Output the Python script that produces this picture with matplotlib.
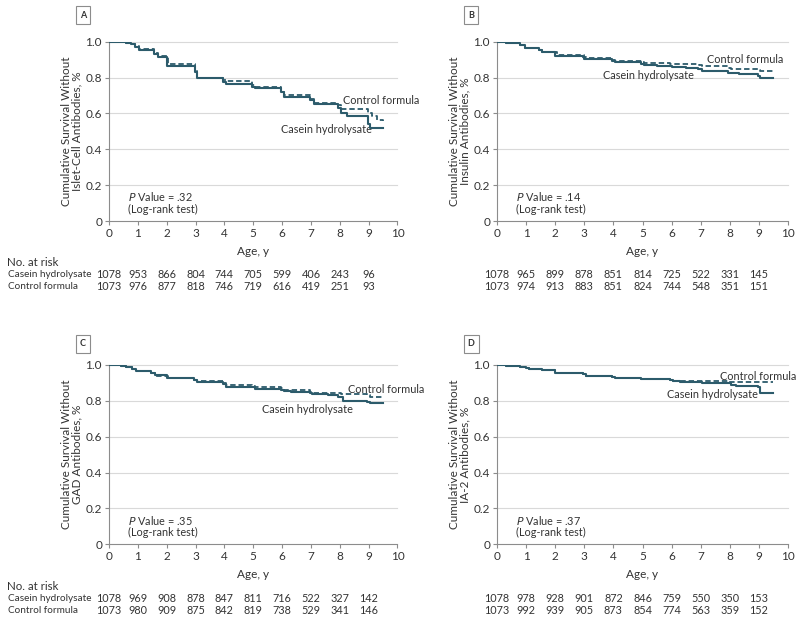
import matplotlib.pyplot as plt
from matplotlib.transforms import blended_transform_factory

plt.rcParams['font.family'] = ['Lato', 'DejaVu Sans']

TEAL = "#2c5b6b"
GRID = "#d9d9d9"
AXC = "#8c8c8c"
TXT = "#333333"

years = [0, 1, 2, 3, 4, 5, 6, 7, 8, 9]
groups = ["Casein hydrolysate", "Control formula"]

# Panel A: islet-cell antibodies
ica_cas_t = [0, 0.6, 0.75, 0.9, 1.05, 1.55, 1.7, 2.0, 2.98, 3.05, 3.95, 4.05, 4.95, 5.05, 5.95, 6.05, 6.95, 7.1, 7.95, 8.05, 8.25, 8.98, 9.05, 9.5]
ica_cas_s = [1.0, 0.995, 0.985, 0.97, 0.955, 0.93, 0.915, 0.862, 0.83, 0.80, 0.775, 0.764, 0.75, 0.742, 0.72, 0.69, 0.675, 0.655, 0.63, 0.60, 0.586, 0.54, 0.519, 0.519]
ica_con_t = [0, 0.6, 0.75, 0.9, 1.05, 1.55, 1.7, 2.05, 2.98, 3.05, 3.95, 4.05, 4.95, 5.05, 5.95, 6.05, 6.95, 7.1, 7.95, 8.05, 8.98, 9.1, 9.3, 9.5]
ica_con_s = [1.0, 0.995, 0.985, 0.975, 0.96, 0.935, 0.918, 0.877, 0.84, 0.80, 0.785, 0.781, 0.76, 0.746, 0.72, 0.70, 0.68, 0.658, 0.645, 0.625, 0.605, 0.585, 0.565, 0.56]
ica_risk_cas = [1078, 953, 866, 804, 744, 705, 599, 406, 243, 96]
ica_risk_con = [1073, 976, 877, 818, 746, 719, 616, 419, 251, 93]

# Panel B: insulin antibodies
iaa_cas_t = [0, 0.3, 0.6, 0.8, 0.95, 1.45, 1.55, 2.0, 2.95, 3.0, 3.95, 4.05, 4.95, 5.05, 5.5, 6.0, 6.5, 6.9, 7.05, 7.95, 8.3, 8.98, 9.05, 9.5]
iaa_cas_s = [1.0, 0.995, 0.99, 0.98, 0.965, 0.955, 0.94, 0.92, 0.915, 0.905, 0.895, 0.885, 0.875, 0.868, 0.863, 0.858, 0.853, 0.848, 0.835, 0.828, 0.82, 0.81, 0.798, 0.798]
iaa_con_t = [0, 0.3, 0.6, 0.8, 0.95, 1.45, 1.55, 2.05, 2.98, 3.05, 3.95, 4.05, 4.98, 5.05, 5.95, 6.05, 6.95, 7.05, 7.95, 8.05, 8.98, 9.05, 9.5]
iaa_con_s = [1.0, 0.995, 0.99, 0.98, 0.965, 0.955, 0.94, 0.925, 0.915, 0.908, 0.9, 0.89, 0.885, 0.88, 0.878, 0.876, 0.872, 0.865, 0.855, 0.845, 0.84, 0.835, 0.835]
iaa_risk_cas = [1078, 965, 899, 878, 851, 814, 725, 522, 331, 145]
iaa_risk_con = [1073, 974, 913, 883, 851, 824, 744, 548, 351, 151]

# Panel C: GAD antibodies
gad_cas_t = [0, 0.4, 0.6, 0.8, 0.95, 1.45, 1.6, 2.0, 2.95, 3.05, 3.95, 4.05, 4.95, 5.05, 5.95, 6.05, 6.3, 6.95, 7.05, 7.6, 7.95, 8.1, 8.95, 9.05, 9.5]
gad_cas_s = [1.0, 0.995, 0.99, 0.98, 0.965, 0.955, 0.945, 0.925, 0.915, 0.905, 0.895, 0.88, 0.875, 0.865, 0.86, 0.855, 0.85, 0.845, 0.84, 0.835, 0.82, 0.80, 0.795, 0.788, 0.788]
gad_con_t = [0, 0.4, 0.6, 0.8, 0.95, 1.45, 1.6, 2.05, 2.95, 3.05, 3.95, 4.05, 4.95, 5.05, 5.95, 6.05, 6.95, 7.05, 7.95, 8.05, 8.95, 9.05, 9.5]
gad_con_s = [1.0, 0.995, 0.99, 0.98, 0.965, 0.955, 0.94, 0.925, 0.915, 0.908, 0.9, 0.89, 0.885, 0.878, 0.87, 0.86, 0.85, 0.845, 0.842, 0.838, 0.83, 0.824, 0.824]
gad_risk_cas = [1078, 969, 908, 878, 847, 811, 716, 522, 327, 142]
gad_risk_con = [1073, 980, 909, 875, 842, 819, 738, 529, 341, 146]

# Panel D: IA-2 antibodies
ia2_cas_t = [0, 0.3, 0.5, 0.8, 1.0, 1.1, 1.55, 2.0, 2.95, 3.05, 3.95, 4.05, 4.95, 5.05, 5.95, 6.05, 6.3, 6.95, 7.05, 7.95, 8.05, 8.2, 8.98, 9.05, 9.5]
ia2_cas_s = [1.0, 0.997, 0.993, 0.99, 0.985, 0.98, 0.97, 0.955, 0.95, 0.94, 0.935, 0.925, 0.922, 0.92, 0.915, 0.91, 0.905, 0.903, 0.90, 0.897, 0.89, 0.884, 0.875, 0.845, 0.845]
ia2_con_t = [0, 0.3, 0.5, 0.8, 1.0, 1.1, 1.55, 2.0, 2.95, 3.05, 3.95, 4.05, 4.95, 5.05, 5.95, 6.05, 6.95, 7.05, 7.95, 8.05, 9.5]
ia2_con_s = [1.0, 0.997, 0.993, 0.99, 0.985, 0.98, 0.97, 0.955, 0.95, 0.94, 0.935, 0.927, 0.924, 0.922, 0.918, 0.912, 0.91, 0.908, 0.906, 0.904, 0.904]
ia2_risk_cas = [1078, 978, 928, 901, 872, 846, 759, 550, 350, 153]
ia2_risk_con = [1073, 992, 939, 905, 873, 854, 774, 563, 359, 152]

panels = [
    ("A", "Islet-Cell Antibodies", ".32", ica_cas_t, ica_cas_s, ica_con_t, ica_con_s, ica_risk_cas, ica_risk_con),
    ("B", "Insulin Antibodies", ".14", iaa_cas_t, iaa_cas_s, iaa_con_t, iaa_con_s, iaa_risk_cas, iaa_risk_con),
    ("C", "GAD Antibodies", ".35", gad_cas_t, gad_cas_s, gad_con_t, gad_con_s, gad_risk_cas, gad_risk_con),
    ("D", "IA-2 Antibodies", ".37", ia2_cas_t, ia2_cas_s, ia2_con_t, ia2_con_s, ia2_risk_cas, ia2_risk_con),
]

# label positions (data coords): control formula (left x, y), casein hydrolysate (right x, y)
label_pos = {
    "A": ((8.1, 0.67), (9.1, 0.51)),
    "B": ((7.2, 0.9), (6.75, 0.81)),
    "C": ((8.3, 0.862), (8.45, 0.75)),
    "D": ((7.65, 0.935), (8.95, 0.835)),
}

# axes rectangles in figure fractions
W, H = 800, 621
rects = {
    "A": (109 / W, 1 - 221 / H, 288.5 / W, 179.3 / H),
    "B": (497 / W, 1 - 221 / H, 291 / W, 179.3 / H),
    "C": (109 / W, 1 - 544.3 / H, 288.5 / W, 179.3 / H),
    "D": (497 / W, 1 - 544.3 / H, 291 / W, 179.3 / H),
}
letter_xy = {"A": (83, 15), "B": (471, 15), "C": (83, 344), "D": (471, 344)}

fig = plt.figure(figsize=(8, 6.21), dpi=100)

for letter, ab, pval, ct, cs, nt, ns, rc, rn in panels:
    ax = fig.add_axes(rects[letter])
    ax.set_xlim(0, 10)
    ax.set_ylim(0, 1.0)
    for g in [0.2, 0.4, 0.6, 0.8, 1.0]:
        ax.axhline(g, color=GRID, lw=0.8, zorder=0, clip_on=False)
    ax.step(nt, ns, where="post", color=TEAL, lw=1.3, ls=(0, (3, 1.6)), zorder=3)
    ax.step(ct, cs, where="post", color=TEAL, lw=1.5, zorder=4)

    for s in ["top", "right"]:
        ax.spines[s].set_visible(False)
    for s in ["left", "bottom"]:
        ax.spines[s].set_color(AXC)
        ax.spines[s].set_linewidth(0.8)
    ax.set_xticks(range(0, 11))
    ax.set_yticks([0, 0.2, 0.4, 0.6, 0.8, 1.0])
    ax.set_yticklabels(["0", "0.2", "0.4", "0.6", "0.8", "1.0"])
    ax.tick_params(colors=AXC, labelcolor=TXT, labelsize=8.5, length=3, width=0.8, pad=2)

    ax.set_xlabel("Age, y", fontsize=8.5, color=TXT, labelpad=5)
    ax.set_ylabel("Cumulative Survival Without\n" + ab + ", %", fontsize=8.5,
                  color=TXT, labelpad=2, linespacing=1.0)

    (cx, cy), (hx, hy) = label_pos[letter]
    ax.text(cx, cy, groups[1], fontsize=7.8, color=TXT, ha="left", va="center")
    ax.text(hx, hy, groups[0], fontsize=7.8, color=TXT, ha="right", va="center")

    ax.text(0.65, 0.135, r"$\it{P}$ Value = " + pval, fontsize=7.8, color=TXT, va="center")
    ax.text(0.65, 0.065, "(Log-rank test)", fontsize=7.8, color=TXT, va="center")

    trans = blended_transform_factory(ax.transData, ax.transAxes)
    for x, a, b in zip(years, rc, rn):
        ax.text(x, -0.30, str(a), transform=trans, ha="center", va="center",
                fontsize=7.8, color=TXT, clip_on=False)
        ax.text(x, -0.368, str(b), transform=trans, ha="center", va="center",
                fontsize=7.8, color=TXT, clip_on=False)
    if letter in ("A", "C"):
        ax.text(-102 / 288.5, -0.234, "No. at risk", transform=ax.transAxes,
                ha="left", va="center", fontsize=8.3, color=TXT)
        ax.text(-101 / 288.5, -0.30, groups[0], transform=ax.transAxes,
                ha="left", va="center", fontsize=7.2, color=TXT)
        ax.text(-101 / 288.5, -0.368, groups[1], transform=ax.transAxes,
                ha="left", va="center", fontsize=7.2, color=TXT)

    lx, ly = letter_xy[letter]
    fig.text(lx / W, 1 - ly / H, letter, ha="center", va="center", fontsize=6.5,
             fontweight="bold", color=TXT,
             bbox=dict(boxstyle="square,pad=0.45", fc="white", ec=AXC, lw=0.8))

fig.savefig("out.png", dpi=100, facecolor="white")
